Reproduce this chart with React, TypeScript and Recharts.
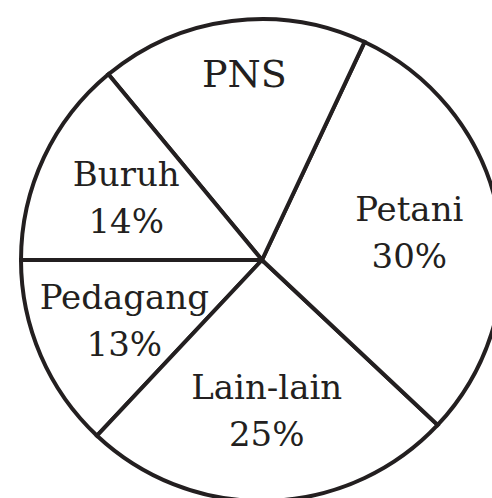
import { PieChart, Pie, Cell } from 'recharts';

// slices listed counter-clockwise, starting from the horizontal line on the left
const categories = ['Pedagang', 'Lain-lain', 'Petani', 'PNS', 'Buruh'];
const shares = [13, 25, 30, 18, 14];
const shareLabels = ['13%', '25%', '30%', '', '14%'];

const INK = '#231f20';
const RADIAN = Math.PI / 180;

const data = categories.map((name, i) => ({
  name,
  value: shares[i],
  share: shareLabels[i],
}));

function SliceLabel(props: any) {
  const { cx, cy, midAngle, payload } = props;
  const twoLines = payload.share !== '';
  const r = twoLines ? 150 : 188;
  const x = cx + r * Math.cos(-midAngle * RADIAN);
  const y = cy + r * Math.sin(-midAngle * RADIAN);
  const textStyle = { fontFamily: '"DejaVu Serif", serif', fontSize: 34, fill: INK };

  if (!twoLines) {
    return (
      <text x={x + 6} y={y + 14} textAnchor="middle" style={{ ...textStyle, fontSize: 38 }}>
        {payload.name}
      </text>
    );
  }
  return (
    <g>
      <text x={x} y={y - 10.5} textAnchor="middle" style={textStyle}>
        {payload.name}
      </text>
      <text x={x} y={y + 36.5} textAnchor="middle" style={textStyle}>
        {payload.share}
      </text>
    </g>
  );
}

export default function App() {
  return (
    <div style={{ position: 'absolute', left: 0, top: 0, background: '#fff' }}>
      <PieChart width={492} height={498} margin={{ top: 0, right: 0, bottom: 0, left: 0 }}>
        <Pie
          data={data}
          dataKey="value"
          nameKey="name"
          cx={262}
          cy={260}
          innerRadius={0}
          outerRadius={241}
          startAngle={180}
          endAngle={540}
          stroke={INK}
          strokeWidth={4}
          label={SliceLabel}
          labelLine={false}
          isAnimationActive={false}
        >
          {data.map((entry, index) => (
            <Cell key={`cell-${index}`} fill="#ffffff" />
          ))}
        </Pie>
      </PieChart>
    </div>
  );
}
